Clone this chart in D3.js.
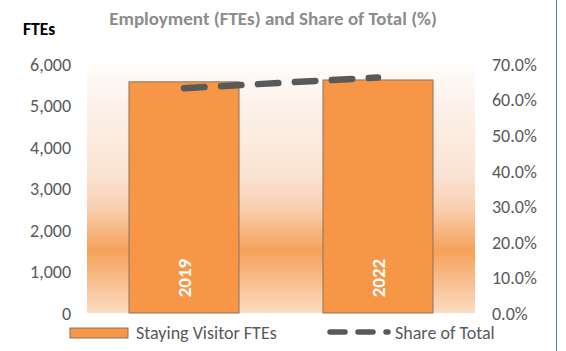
<!DOCTYPE html>
<html>
<head>
<meta charset="utf-8">
<script src="https://cdn.jsdelivr.net/npm/d3@7"></script>
<style>
  html, body { margin: 0; padding: 0; background: #ffffff; }
  svg { display: block; }
  text { font-family: Carlito, Calibri, Lato, "Open Sans", sans-serif; }
</style>
</head>
<body>
<script>
// Chart data
const years = ["2019", "2022"];
const stayingVisitorFTEs = [5570, 5615];
const shareOfTotal = [0.632, 0.662];
const fteTicks = [0, 1000, 2000, 3000, 4000, 5000, 6000];
const shareTicks = [0, 0.1, 0.2, 0.3, 0.4, 0.5, 0.6, 0.7];

const W = 566, H = 351;
const plot = { left: 87, right: 475, top: 64, bottom: 313 };

const svg = d3.select("body").append("svg")
  .attr("width", W).attr("height", H);

// Plot-area background: vertical orange band gradient
const defs = svg.append("defs");
const grad = defs.append("linearGradient")
  .attr("id", "plotBg").attr("x1", 0).attr("y1", 0).attr("x2", 0).attr("y2", 1);
[
  [0.00, "#fffdfb"],
  [0.18, "#fdf1e9"],
  [0.45, "#fbe3d3"],
  [0.58, "#f9cfb0"],
  [0.75, "#f6a25a"],
  [0.88, "#f8c092"],
  [1.00, "#fcdcc2"]
].forEach(([o, c]) => grad.append("stop").attr("offset", o).attr("stop-color", c));

svg.append("rect")
  .attr("x", plot.left).attr("y", plot.top - 1)
  .attr("width", plot.right - plot.left).attr("height", plot.bottom - plot.top + 1)
  .attr("fill", "url(#plotBg)");

// Scales
const x = d3.scaleBand()
  .domain(years)
  .range([plot.left, plot.right])
  .paddingInner(0.433)
  .paddingOuter(0.2165);

const yL = d3.scaleLinear().domain([0, 6000]).range([plot.bottom, plot.top]);
const yR = d3.scaleLinear().domain([0, 0.7]).range([plot.bottom, plot.top]);

// Left axis (FTEs)
const axisL = d3.axisLeft(yL).tickValues(fteTicks).tickFormat(d3.format(",")).tickSize(0).tickPadding(0);
const gL = svg.append("g").attr("transform", "translate(71,0)").call(axisL);
gL.select(".domain").remove();
gL.selectAll("text")
  .attr("x", 0).attr("dy", "0.35em")
  .attr("fill", "#595959").style("font-size", "18px");

// Right axis (share)
const axisR = d3.axisRight(yR).tickValues(shareTicks).tickFormat(d3.format(".1%")).tickSize(0).tickPadding(0);
const gR = svg.append("g").attr("transform", "translate(492,0)").call(axisR);
gR.select(".domain").remove();
gR.selectAll("text")
  .attr("x", 0).attr("dy", "0.35em")
  .attr("fill", "#595959").style("font-size", "18px");

// Bars
svg.append("g").selectAll("rect")
  .data(years)
  .join("rect")
  .attr("x", (d) => x(d))
  .attr("y", (d, i) => yL(stayingVisitorFTEs[i]))
  .attr("width", x.bandwidth())
  .attr("height", (d, i) => yL(0) - yL(stayingVisitorFTEs[i]))
  .attr("fill", "#f79646")
  .attr("stroke", "#8a7260")
  .attr("stroke-width", 1);

// Year labels inside bars
svg.append("g").selectAll("text")
  .data(years)
  .join("text")
  .attr("transform", (d) => `translate(${x(d) + x.bandwidth() / 2},278) rotate(-90)`)
  .attr("text-anchor", "middle")
  .attr("dy", "0.35em")
  .attr("fill", "#ffffff")
  .style("font-size", "19px")
  .style("font-weight", "bold")
  .text((d) => d);

// Share of total line (secondary axis)
const line = d3.line()
  .x((d, i) => x(years[i]) + x.bandwidth() / 2)
  .y((d) => yR(d));

svg.append("path")
  .datum(shareOfTotal)
  .attr("d", line)
  .attr("fill", "none")
  .attr("stroke", "#595959")
  .attr("stroke-width", 6.5)
  .attr("stroke-linecap", "round")
  .attr("stroke-dasharray", "20.5,16.5");

// Title and axis caption
svg.append("text")
  .attr("x", 273).attr("y", 25)
  .attr("text-anchor", "middle")
  .attr("fill", "#8c8c8c")
  .style("font-size", "19px").style("font-weight", "bold")
  .text("Employment (FTEs) and Share of Total (%)");

svg.append("text")
  .attr("x", 23).attr("y", 35)
  .attr("fill", "#000000")
  .style("font-size", "17.5px").style("font-weight", "bold")
  .text("FTEs");

// Legend
const legend = svg.append("g");
legend.append("rect")
  .attr("x", 70).attr("y", 328).attr("width", 58).attr("height", 10)
  .attr("fill", "#f79646").attr("stroke", "#8a7260").attr("stroke-width", 1);
legend.append("text")
  .attr("x", 136).attr("y", 339)
  .attr("fill", "#595959").style("font-size", "18px")
  .text("Staying Visitor FTEs");
legend.append("line")
  .attr("x1", 330).attr("x2", 388).attr("y1", 332).attr("y2", 332)
  .attr("stroke", "#595959").attr("stroke-width", 5.5)
  .attr("stroke-linecap", "round")
  .attr("stroke-dasharray", "15,13");
legend.append("text")
  .attr("x", 395).attr("y", 339)
  .attr("fill", "#595959").style("font-size", "18px")
  .text("Share of Total");

// Right-hand frame edge
svg.append("line")
  .attr("x1", 556.5).attr("x2", 556.5).attr("y1", 0).attr("y2", H)
  .attr("stroke", "#6d83ad").attr("stroke-width", 1);
</script>
</body>
</html>
